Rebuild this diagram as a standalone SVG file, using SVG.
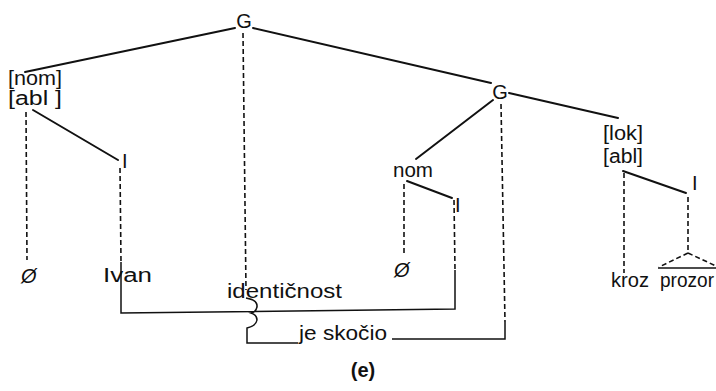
<svg xmlns="http://www.w3.org/2000/svg" width="716" height="391" viewBox="0 0 716 391">
<style>
text{font-family:"Liberation Sans","DejaVu Sans",sans-serif;font-size:20px;fill:#111}
.s{fill:none;stroke:#111;stroke-width:2;stroke-linecap:round}
.t{fill:none;stroke:#111;stroke-width:1.5}
.d{fill:none;stroke:#111;stroke-width:1.6;stroke-dasharray:5 3}
</style>
<rect width="716" height="391" fill="#fff"/>
<g id="connectors">
<line class="s" x1="235" y1="28" x2="25" y2="72"/>
<line class="s" x1="253" y1="28" x2="491" y2="83"/>
<line class="s" x1="493" y1="100" x2="416" y2="159"/>
<line class="s" x1="509" y1="93" x2="618" y2="118"/>
<line class="s" x1="33" y1="110" x2="118" y2="160"/>
<line class="s" x1="407" y1="181" x2="452" y2="198"/>
<line class="s" x1="623" y1="171" x2="686" y2="193"/>
<line class="d" x1="26" y1="112" x2="27" y2="260"/>
<line class="d" x1="120" y1="168" x2="121" y2="262"/>
<line class="d" x1="243" y1="33" x2="246" y2="290"/>
<line class="d" x1="501" y1="104" x2="505" y2="322"/>
<line class="d" x1="404" y1="184" x2="404" y2="256"/>
<line class="d" x1="454" y1="200" x2="455" y2="270"/>
<line class="d" x1="624" y1="173" x2="624" y2="273"/>
<line class="d" x1="688" y1="197" x2="688" y2="253"/>
<path class="d" d="M688,253 L659,267 M688,253 L716,266"/>
<line class="t" x1="658" y1="268" x2="716" y2="268"/>
<path class="t" d="M121,262 L121,313 L455,309 L455,270"/>
<path class="t" d="M505,322 L505,339 L392,339"/>
<path class="t" d="M246,298 Q258,300 257,307 Q256,312 251,313 Q257,315 257,320 Q256,326 247,328 L247,343 L298,343"/>
</g>
<g id="G1"><text x="244" y="28" text-anchor="middle" font-size="21">G</text></g>
<g id="G2"><text x="500" y="99" text-anchor="middle" font-size="21">G</text></g>
<g id="nomabl"><text x="8" y="85" textLength="54" lengthAdjust="spacingAndGlyphs">[nom]</text><text x="8" y="105" textLength="54" lengthAdjust="spacingAndGlyphs">[abl ]</text></g>
<g id="I1"><text x="122" y="168" font-size="18">I</text></g>
<g id="phi1"><text x="21" y="283" font-size="21" font-style="italic">Ø</text></g>
<g id="ivan"><text x="103" y="282" textLength="49" lengthAdjust="spacingAndGlyphs">Ivan</text></g>
<g id="identicnost"><text x="227" y="298" textLength="115" lengthAdjust="spacingAndGlyphs">identičnost</text></g>
<g id="nom"><text x="393" y="177" textLength="40" lengthAdjust="spacingAndGlyphs">nom</text></g>
<g id="I2"><text x="455" y="212" font-size="18">I</text></g>
<g id="phi2"><text x="394" y="277" font-size="21" font-style="italic">Ø</text></g>
<g id="lokabl"><text x="603" y="140" textLength="40" lengthAdjust="spacingAndGlyphs">[lok]</text><text x="603" y="163" textLength="40" lengthAdjust="spacingAndGlyphs">[abl]</text></g>
<g id="I3"><text x="692" y="190" font-size="18">I</text></g>
<g id="kroz"><text x="611" y="287" textLength="38" lengthAdjust="spacingAndGlyphs">kroz</text></g>
<g id="prozor"><text x="660" y="287" textLength="54" lengthAdjust="spacingAndGlyphs">prozor</text></g>
<g id="jeskocio"><text x="299" y="340" textLength="88" lengthAdjust="spacingAndGlyphs">je skočio</text></g>
<g id="caption"><text x="363" y="377" text-anchor="middle" font-size="21" font-weight="bold">(e)</text></g>
</svg>
